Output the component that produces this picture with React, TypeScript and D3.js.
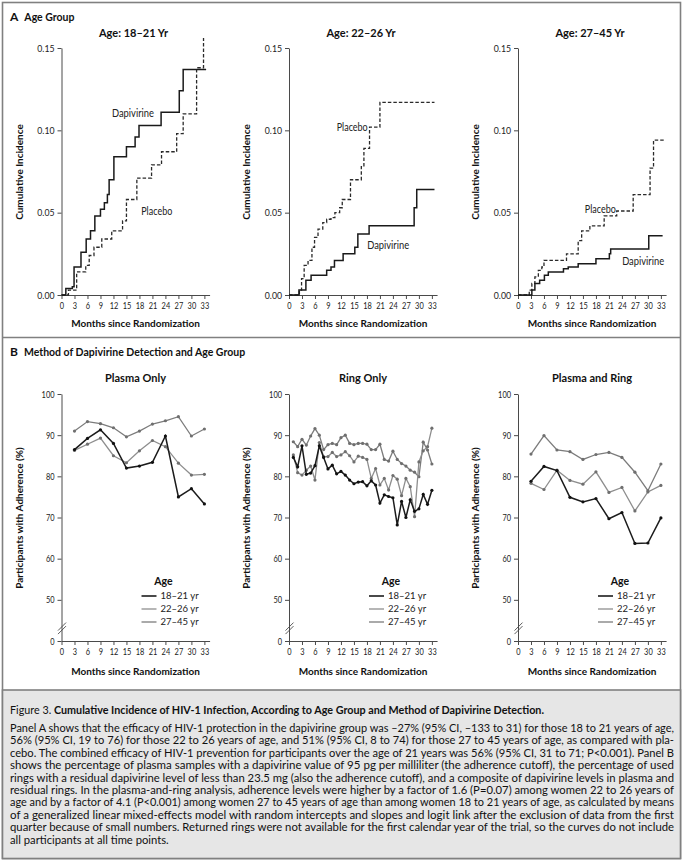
import { useRef, useEffect } from 'react';
import * as d3 from 'd3';

type Pt = [number, number];

const W = 686;
const H = 866;
const FONT = "Lato, 'Open Sans', 'DejaVu Sans', sans-serif";

// shared axes
const monthTicks = [0, 3, 6, 9, 12, 15, 18, 21, 24, 27, 30, 33];
const incidenceTicks = [0, 0.05, 0.1, 0.15];
// 40 sits under the axis break and is printed as "0"
const adherenceTicks = [40, 50, 60, 70, 80, 90, 100];

// Panel A: step curves, [month, cumulative incidence]
const kmTitles = ['Age: 18–21 Yr', 'Age: 22–26 Yr', 'Age: 27–45 Yr'];

const dap1821: Pt[] = [[0, 0], [1.0, 0.004], [2.5, 0.005], [2.9, 0.017], [4.5, 0.026], [5.7, 0.034], [6.7, 0.039], [7.7, 0.048], [9.0, 0.052], [9.9, 0.056], [10.6, 0.061], [11.0, 0.070], [12.1, 0.084], [15.0, 0.090], [17.0, 0.096], [17.9, 0.103], [23.0, 0.111], [27.2, 0.124], [28.1, 0.137], [33.4, 0.137]];
const pla1821: Pt[] = [[0, 0], [1.6, 0.003], [3.5, 0.014], [5.6, 0.018], [6.4, 0.024], [7.5, 0.029], [9.3, 0.034], [11.6, 0.039], [14.1, 0.045], [15.0, 0.058], [17.4, 0.071], [20.8, 0.079], [23.1, 0.087], [26.6, 0.098], [28.1, 0.110], [31.2, 0.138], [32.8, 0.156]];

const dap2226: Pt[] = [[0, 0], [2.3, 0.003], [3.9, 0.009], [5.1, 0.012], [8.7, 0.015], [9.7, 0.017], [10.5, 0.021], [12.5, 0.025], [15.2, 0.029], [15.9, 0.037], [18.5, 0.042], [28.9, 0.053], [29.5, 0.064], [33.6, 0.064]];
const pla2226: Pt[] = [[0, 0], [2.4, 0.003], [2.9, 0.010], [3.5, 0.018], [4.4, 0.021], [5.3, 0.029], [5.9, 0.035], [6.7, 0.040], [7.8, 0.044], [8.7, 0.046], [9.7, 0.047], [10.6, 0.050], [11.7, 0.053], [12.3, 0.058], [14.2, 0.070], [16.7, 0.078], [17.3, 0.089], [18.6, 0.102], [21.0, 0.117], [33.6, 0.117]];

const dap2745: Pt[] = [[0, 0], [3.2, 0.003], [3.9, 0.007], [5.0, 0.009], [6.1, 0.012], [7.0, 0.014], [10.5, 0.016], [11.6, 0.017], [13.9, 0.019], [18.0, 0.022], [21.1, 0.025], [21.4, 0.028], [30.2, 0.036], [33.4, 0.036]];
const pla2745: Pt[] = [[0, 0], [2.6, 0.003], [3.2, 0.007], [3.9, 0.011], [4.7, 0.015], [5.5, 0.017], [6.0, 0.021], [11.2, 0.025], [13.9, 0.033], [14.7, 0.039], [16.6, 0.042], [19.9, 0.048], [22.8, 0.051], [26.6, 0.061], [30.5, 0.077], [31.3, 0.094], [33.9, 0.094]];

// Panel B: adherence (%)
const ageGroups = ['18–21 yr', '22–26 yr', '27–45 yr'];
const quarterMonths = [3, 6, 9, 12, 15, 18, 21, 24, 27, 30, 33];
const ringMonths = [1, 2, 3, 4, 5, 6, 7, 8, 9, 10, 11, 12, 13, 14, 15, 16, 17, 18, 19, 20, 21, 22, 23, 24, 25, 26, 27, 28, 29, 30, 31, 32, 33];

const plasma1821 = [86.5, 89.2, 91.3, 88.0, 82.0, 82.5, 83.4, 89.8, 75.0, 77.0, 73.3];
const plasma2226 = [86.3, 87.8, 89.3, 85.0, 83.3, 86.2, 88.7, 87.2, 83.2, 80.3, 80.5];
const plasma2745 = [91.0, 93.3, 92.8, 91.8, 89.6, 91.0, 92.7, 93.5, 94.5, 89.8, 91.5];

const ring1821 = [84.6, 82.3, 87.4, 80.5, 80.8, 82.6, 87.4, 84.6, 81.8, 82.7, 80.6, 81.2, 80.3, 79.1, 78.2, 78.6, 78.7, 77.7, 78.9, 77.9, 73.5, 75.5, 75.1, 74.8, 68.2, 73.9, 70.0, 74.3, 71.5, 72.1, 75.6, 73.2, 76.6];
const ring2226 = [85.2, 80.9, 80.3, 81.5, 82.5, 79.1, 88.2, 84.8, 84.8, 85.8, 84.8, 85.2, 86.0, 85.0, 83.5, 84.9, 84.6, 84.1, 79.5, 81.9, 77.9, 79.5, 76.7, 80.2, 79.3, 75.3, 79.5, 77.5, 70.2, 83.5, 86.2, 87.2, 91.7];
const ring2745 = [88.4, 87.2, 89.0, 87.6, 89.8, 91.6, 90.0, 86.5, 87.7, 88.0, 87.7, 89.4, 90.0, 88.0, 87.7, 88.0, 88.0, 87.8, 86.5, 86.5, 87.8, 84.1, 83.7, 86.1, 84.1, 83.1, 82.5, 81.5, 81.0, 79.9, 88.3, 86.4, 83.0];

const both1821 = [78.8, 82.4, 81.4, 74.9, 73.8, 74.6, 69.7, 71.2, 63.7, 63.8, 69.9];
const both2226 = [78.3, 76.8, 81.5, 79.0, 78.1, 81.1, 76.1, 77.3, 71.6, 76.2, 77.8];
const both2745 = [85.4, 89.9, 86.4, 86.0, 84.1, 85.3, 85.8, 84.6, 81.0, 76.5, 83.0];

const captionLead = 'Figure 3. ';
const captionTitle = 'Cumulative Incidence of HIV-1 Infection, According to Age Group and Method of Dapivirine Detection.';
const captionLines = [
    'Panel A shows that the efficacy of HIV-1 protection in the dapivirine group was –27% (95% CI, –133 to 31) for those 18 to 21 years of age,',
    '56% (95% CI, 19 to 76) for those 22 to 26 years of age, and 51% (95% CI, 8 to 74) for those 27 to 45 years of age, as compared with pla-',
    'cebo. The combined efficacy of HIV-1 prevention for participants over the age of 21 years was 56% (95% CI, 31 to 71; P<0.001). Panel B',
    'shows the percentage of plasma samples with a dapivirine value of 95 pg per milliliter (the adherence cutoff), the percentage of used',
    'rings with a residual dapivirine level of less than 23.5 mg (also the adherence cutoff), and a composite of dapivirine levels in plasma and',
    'residual rings. In the plasma-and-ring analysis, adherence levels were higher by a factor of 1.6 (P=0.07) among women 22 to 26 years of',
    'age and by a factor of 4.1 (P<0.001) among women 27 to 45 years of age than among women 18 to 21 years of age, as calculated by means',
    'of a generalized linear mixed-effects model with random intercepts and slopes and logit link after the exclusion of data from the first',
    'quarter because of small numbers. Returned rings were not available for the first calendar year of the trial, so the curves do not include',
    'all participants at all time points.',
];

const ageColors = ['#1c1c1c', '#8e8e8e', '#7c7c7c'];
const axisColor = '#4a4a4a';

function styleAxis(g: d3.Selection<SVGGElement, unknown, null, undefined>) {
    g.attr('font-family', FONT).attr('font-size', 9.5);
    g.select('.domain').attr('stroke', axisColor).attr('stroke-width', 1);
    g.selectAll('.tick line').attr('stroke', axisColor);
    // condensed tick labels, like the original typeface
    g.selectAll<SVGTextElement, unknown>('.tick text')
        .attr('fill', '#222')
        .attr('textLength', function () { return (this.textContent || '').length * 4.3; })
        .attr('lengthAdjust', 'spacingAndGlyphs');
}

const App = () => {
    const svgRef = useRef<SVGSVGElement | null>(null);

    useEffect(() => {
        document.body.style.margin = '0';
        if (!svgRef.current) return;
        const svg = d3.select(svgRef.current);
        svg.selectAll('*').remove();

        // frame
        svg.append('rect').attr('x', 2.5).attr('y', 2.5).attr('width', 678).attr('height', 856)
            .attr('fill', '#fff').attr('stroke', '#808080').attr('stroke-width', 1.6);
        svg.append('line').attr('x1', 2.5).attr('x2', 680.5).attr('y1', 337.5).attr('y2', 337.5)
            .attr('stroke', '#808080').attr('stroke-width', 1.6);
        svg.append('rect').attr('x', 2.5).attr('y', 690).attr('width', 678).attr('height', 168.5)
            .attr('fill', '#e6e6e6').attr('stroke', '#808080').attr('stroke-width', 1.6);

        const header = (y: number, letter: string, text: string) => {
            const t = svg.append('text').attr('x', 10).attr('y', y).attr('font-family', FONT)
                .attr('font-weight', 'bold').attr('fill', '#111');
            t.append('tspan').attr('font-size', 12).text(letter);
            t.append('tspan').attr('dx', 6).attr('font-size', 10.5).text(text);
        };
        header(21, 'A', 'Age Group');
        header(356, 'B', 'Method of Dapivirine Detection and Age Group');

        const origins = [61.5, 289, 518];
        const pxPerMonth = 4.33;
        const xScaleFor = (x0: number) => d3.scaleLinear().domain([0, 34.2]).range([x0, x0 + 34.2 * pxPerMonth]);

        const titleText = (x: number, y: number, text: string, size: number) =>
            svg.append('text').attr('x', x).attr('y', y).attr('text-anchor', 'middle')
                .attr('font-family', FONT).attr('font-weight', 'bold').attr('font-size', size)
                .attr('fill', '#111').text(text);

        const yTitle = (x: number, y: number, text: string) =>
            svg.append('text').attr('transform', `translate(${x},${y}) rotate(-90)`)
                .attr('text-anchor', 'middle').attr('font-family', FONT).attr('font-weight', 'bold')
                .attr('font-size', 10).attr('fill', '#111').text(text);

        // ---------- Panel A ----------
        const kmSeries = [[dap1821, pla1821], [dap2226, pla2226], [dap2745, pla2745]];
        const kmLabels: { dap: Pt; pla: Pt }[] = [
            { dap: [16.5, 0.1105], pla: [22.0, 0.051] },
            { dap: [22.9, 0.0304], pla: [14.6, 0.102] },
            { dap: [28.9, 0.0206], pla: [19.0, 0.0518] },
        ];
        const yA = d3.scaleLinear().domain([0, 0.15]).range([295, 48]);

        origins.forEach((x0, i) => {
            const x = xScaleFor(x0);
            const g = svg.append('g');

            const xAxis = g.append('g').attr('transform', `translate(0,${yA(0)})`)
                .call(d3.axisBottom(x).tickValues(monthTicks).tickSize(4).tickSizeOuter(0));
            styleAxis(xAxis);
            const yAxis = g.append('g').attr('transform', `translate(${x0},0)`)
                .call(d3.axisLeft(yA).tickValues(incidenceTicks).tickFormat(d3.format('.2f')).tickSize(4).tickSizeOuter(0));
            styleAxis(yAxis);

            const line = d3.line<Pt>().x(d => x(d[0])).y(d => yA(d[1])).curve(d3.curveStepAfter);
            const [dap, pla] = kmSeries[i];
            g.append('path').datum(pla).attr('d', line).attr('fill', 'none')
                .attr('stroke', '#2a2a2a').attr('stroke-width', 1.3).attr('stroke-dasharray', '3.5,2');
            g.append('path').datum(dap).attr('d', line).attr('fill', 'none')
                .attr('stroke', '#1a1a1a').attr('stroke-width', 1.5);

            const lab = kmLabels[i];
            [[lab.dap, 'Dapivirine', 42], [lab.pla, 'Placebo', 31]].forEach(([p, t, w]) => {
                const pt = p as Pt;
                g.append('text').attr('x', x(pt[0])).attr('y', yA(pt[1])).attr('dy', '0.35em')
                    .attr('text-anchor', 'middle').attr('font-family', FONT).attr('font-size', 10.5)
                    .attr('textLength', w as number).attr('lengthAdjust', 'spacingAndGlyphs')
                    .attr('fill', '#222').text(t as string);
            });

            titleText(x0 + 72, 37, kmTitles[i], 11);
            titleText(x0 + 74, 327, 'Months since Randomization', 10);
            yTitle(x0 - 39, 172, 'Cumulative Incidence');
        });

        // ---------- Panel B ----------
        const yB = d3.scaleLinear().domain([40, 100]).range([641, 394]);
        const bTitles = ['Plasma Only', 'Ring Only', 'Plasma and Ring'];
        const bMonths = [quarterMonths, ringMonths, quarterMonths];
        const bSeries = [
            [plasma1821, plasma2226, plasma2745],
            [ring1821, ring2226, ring2745],
            [both1821, both2226, both2745],
        ];

        origins.forEach((x0, i) => {
            const x = xScaleFor(x0);
            const g = svg.append('g');

            const xAxis = g.append('g').attr('transform', `translate(0,${yB(40)})`)
                .call(d3.axisBottom(x).tickValues(monthTicks).tickSize(4).tickSizeOuter(0));
            styleAxis(xAxis);
            const yAxis = g.append('g').attr('transform', `translate(${x0},0)`)
                .call(d3.axisLeft(yB).tickValues(adherenceTicks)
                    .tickFormat(d => (d === 40 ? '0' : String(d))).tickSize(4).tickSizeOuter(0));
            styleAxis(yAxis);

            // axis break
            const yb = yB(43.5);
            [0, 3.5].forEach(off => {
                g.append('line').attr('x1', x0 - 3.5).attr('x2', x0 + 4.5)
                    .attr('y1', yb + off + 4).attr('y2', yb + off - 4)
                    .attr('stroke', axisColor).attr('stroke-width', 0.9);
            });

            const months = bMonths[i];
            const line = d3.line<number>().x((_d, k) => x(months[k])).y(d => yB(d));
            [2, 1, 0].forEach(s => {
                const vals = bSeries[i][s];
                g.append('path').datum(vals).attr('d', line).attr('fill', 'none')
                    .attr('stroke', ageColors[s]).attr('stroke-width', s === 0 ? 1.5 : 1.3);
                g.selectAll(null).data(vals).join('circle')
                    .attr('cx', (_d, k) => x(months[k])).attr('cy', d => yB(d)).attr('r', 1.6)
                    .attr('fill', s === 0 ? '#111' : '#6f6f6f');
            });

            // legend
            const lx = x0 + 80;
            g.append('text').attr('x', lx + 22).attr('y', 585).attr('text-anchor', 'middle')
                .attr('font-family', FONT).attr('font-weight', 'bold').attr('font-size', 10.5)
                .attr('fill', '#111').text('Age');
            ageGroups.forEach((a, k) => {
                const ly = 596 + k * 13;
                g.append('line').attr('x1', lx).attr('x2', lx + 15).attr('y1', ly).attr('y2', ly)
                    .attr('stroke', ageColors[k]).attr('stroke-width', k === 0 ? 1.6 : 1.3);
                g.append('text').attr('x', lx + 19).attr('y', ly).attr('dy', '0.35em')
                    .attr('font-family', FONT).attr('font-size', 9.5).attr('fill', '#222').text(a);
            });

            titleText(x0 + 74, 382, bTitles[i], 11);
            titleText(x0 + 74, 675, 'Months since Randomization', 10);
            yTitle(x0 - 39, 518, 'Participants with Adherence (%)');
        });

        // ---------- caption ----------
        const cap = svg.append('g').attr('font-family', FONT).attr('fill', '#111');
        const first = cap.append('text').attr('x', 10).attr('y', 714).attr('font-size', 10.5)
            .attr('textLength', 534).attr('lengthAdjust', 'spacingAndGlyphs');
        first.append('tspan').text(captionLead);
        first.append('tspan').attr('font-weight', 'bold').text(captionTitle);

        const nodes = captionLines.map((t, k) =>
            cap.append('text').attr('x', 10).attr('y', 732 + k * 12.4).attr('font-size', 10.5).text(t));
        // justified lines are squeezed to the full width; the last line gets the same squeeze
        const ratios = nodes.slice(0, -1).map(n => 664 / (n.node() as SVGTextElement).getComputedTextLength());
        const ratio = d3.mean(ratios) || 1;
        nodes.forEach((n, k) => {
            const natural = (n.node() as SVGTextElement).getComputedTextLength();
            const last = k === nodes.length - 1;
            n.attr('textLength', last ? natural * ratio : 664).attr('lengthAdjust', 'spacingAndGlyphs');
        });
    }, []);

    return <svg ref={svgRef} width={W} height={H} style={{ display: 'block', background: '#fff' }}></svg>;
};

export default App;
